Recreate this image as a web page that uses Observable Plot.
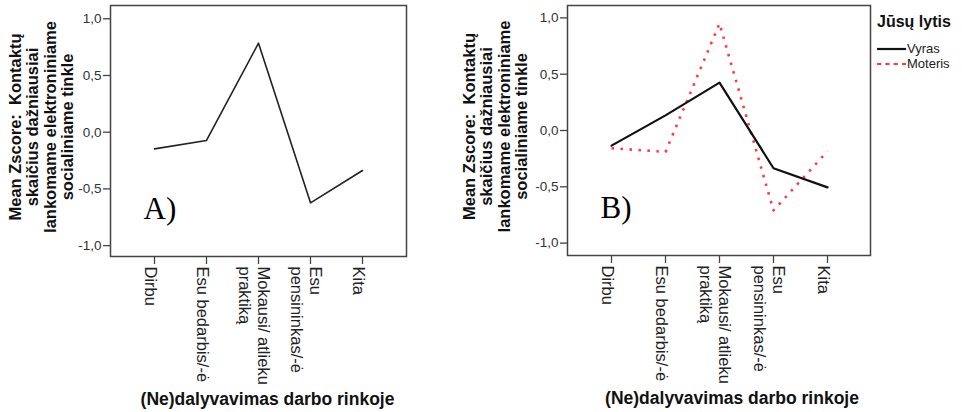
<!DOCTYPE html>
<html>
<head>
<meta charset="utf-8">
<script src="https://cdn.jsdelivr.net/npm/d3@7"></script>
<script src="https://cdn.jsdelivr.net/npm/@observablehq/plot@0.6"></script>
<style>
  html, body { margin: 0; padding: 0; background: #fff; }
  #wrap { position: relative; width: 962px; height: 412px; overflow: hidden; font-family: "Liberation Sans", Arial, sans-serif; }
  #wrap svg { overflow: visible; }
  .panel { position: absolute; top: 0; }
  #legend { position: absolute; left: 877px; top: 11px; color: #222; }
  #legend .lt { font-weight: bold; font-size: 16px; line-height: 22px; color: #111; }
  #legend .it { display: flex; align-items: center; height: 15px; font-size: 13px; }
  #legend .it svg { margin-right: 1px; }
</style>
</head>
<body>
<div id="wrap">
  <div id="left" class="panel" style="left:0px"></div>
  <div id="right" class="panel" style="left:455px"></div>
  <div id="legend"></div>
</div>
<script>
// ---- data ----
const categories = ["Dirbu", "Esu bedarbis/-ė", "Mokausi/ atlieku praktiką", "Esu pensininkas/-ė", "Kita"];
const categoryLabels = ["Dirbu", "Esu bedarbis/-ė", "Mokausi/ atlieku\npraktiką", "Esu\npensininkas/-ė", "Kita"];
const overallValues = [-0.147, -0.073, 0.785, -0.623, -0.338];
const seriesNames = ["Vyras", "Moteris"];
const vyrasValues = [-0.134, 0.134, 0.425, -0.335, -0.505];
const moterisValues = [-0.157, -0.19, 0.95, -0.71, -0.184];
const yTicks = [-1, -0.5, 0, 0.5, 1];
const yTickLabels = ["-1,0", "-0,5", "0,0", "0,5", "1,0"];
const yTitle = "Mean Zscore:  Kontaktų\nskaičius dažniausiai\nlankomame elektroniniame\nsocialiniame tinkle";
const xTitle = "(Ne)dalyvavimas darbo rinkoje";
const panelLabels = ["A)", "B)"];
const legendTitle = "Jūsų lytis";

const seriesStyles = {
  Vyras: {stroke: "#111", strokeWidth: 2.2, dash: null, legendDash: null},
  Moteris: {stroke: "#ff3b3b", strokeWidth: 2.6, dash: "2.5,6.5", legendDash: "4.3,4"}
};

const font = "'Liberation Sans', Arial, sans-serif";

function panel({width, marginLeft, marginRight, marginBottom, yDomain, padding, lines, label, titleDx, xTitleDx}) {
  return Plot.plot({
    width, height: 412,
    marginTop: 5, marginLeft, marginRight, marginBottom,
    style: {fontFamily: font, background: "transparent", color: "#222", overflow: "visible"},
    x: {type: "point", domain: categories, padding},
    y: {domain: yDomain},
    marks: [
      Plot.frame({stroke: "#444", strokeWidth: 1.5}),
      Plot.axisY({ticks: yTicks, tickSize: 7, tickPadding: 2, fontSize: 13.5, stroke: "#444", strokeWidth: 1.3, fill: "#333",
        tickFormat: d => yTickLabels[yTicks.indexOf(d)], label: null}),
      Plot.axisX({tickSize: 8, stroke: "#444", strokeWidth: 1.3, fill: "none", label: null}),
      Plot.axisX({tickSize: 0, tickPadding: 10, tickRotate: 90, textAnchor: "start", lineAnchor: "middle", lineHeight: 1.12,
        dx: -4, fontSize: 16.5, fill: "#222", label: null,
        tickFormat: d => categoryLabels[categories.indexOf(d)]}),
      ...lines,
      Plot.text([yTitle], {frameAnchor: "left", text: d => d, rotate: -90, textAnchor: "middle", lineAnchor: "top",
        lineHeight: 1.06, dx: titleDx, dy: -4, fontSize: 16.5, fontWeight: "bold", fill: "#111"}),
      Plot.text([xTitle], {frameAnchor: "bottom", text: d => d, lineAnchor: "bottom", dy: 148, dx: xTitleDx,
        fontSize: 17.5, fontWeight: "bold", fill: "#111"}),
      Plot.text([label], {frameAnchor: "bottom-left", text: d => d, textAnchor: "start", lineAnchor: "bottom",
        dx: 33, dy: -38, fontSize: 31, fontFamily: "'Liberation Serif', 'Times New Roman', serif", fill: "#000"})
    ]
  });
}

const overallData = categories.map((c, i) => ({cat: c, value: overallValues[i]}));
const vyrasData = categories.map((c, i) => ({cat: c, value: vyrasValues[i]}));
const moterisData = categories.map((c, i) => ({cat: c, value: moterisValues[i]}));

const left = panel({
  width: 455, marginLeft: 110, marginRight: 49, marginBottom: 156,
  yDomain: [-1.096, 1.117], padding: 0.81, label: panelLabels[0], titleDx: -102, xTitleDx: 9,
  lines: [Plot.line(overallData, {x: "cat", y: "value", stroke: "#222", strokeWidth: 1.6})]
});
document.getElementById("left").appendChild(left);

const right = panel({
  width: 420, marginLeft: 112, marginRight: 5, marginBottom: 157,
  yDomain: [-1.11, 1.11], padding: 0.79, label: panelLabels[1], titleDx: -105, xTitleDx: 13,
  lines: [
    Plot.line(moterisData, {x: "cat", y: "value", stroke: seriesStyles.Moteris.stroke, strokeWidth: seriesStyles.Moteris.strokeWidth,
      strokeDasharray: seriesStyles.Moteris.dash, strokeLinecap: "butt"}),
    Plot.line(vyrasData, {x: "cat", y: "value", stroke: seriesStyles.Vyras.stroke, strokeWidth: seriesStyles.Vyras.strokeWidth})
  ]
});
document.getElementById("right").appendChild(right);

// legend
const lg = document.getElementById("legend");
const t = document.createElement("div");
t.className = "lt";
t.textContent = legendTitle;
lg.appendChild(t);
const spacer = document.createElement("div");
spacer.style.height = "8px";
lg.appendChild(spacer);
for (const name of seriesNames) {
  const s = seriesStyles[name];
  const it = document.createElement("div");
  it.className = "it";
  it.innerHTML = `<svg width="29" height="8"><line x1="0" x2="29" y1="4" y2="4" stroke="${s.stroke}" stroke-width="2.2" ${s.legendDash ? `stroke-dasharray="${s.legendDash}"` : ""}/></svg><span>${name}</span>`;
  lg.appendChild(it);
}
</script>
</body>
</html>
